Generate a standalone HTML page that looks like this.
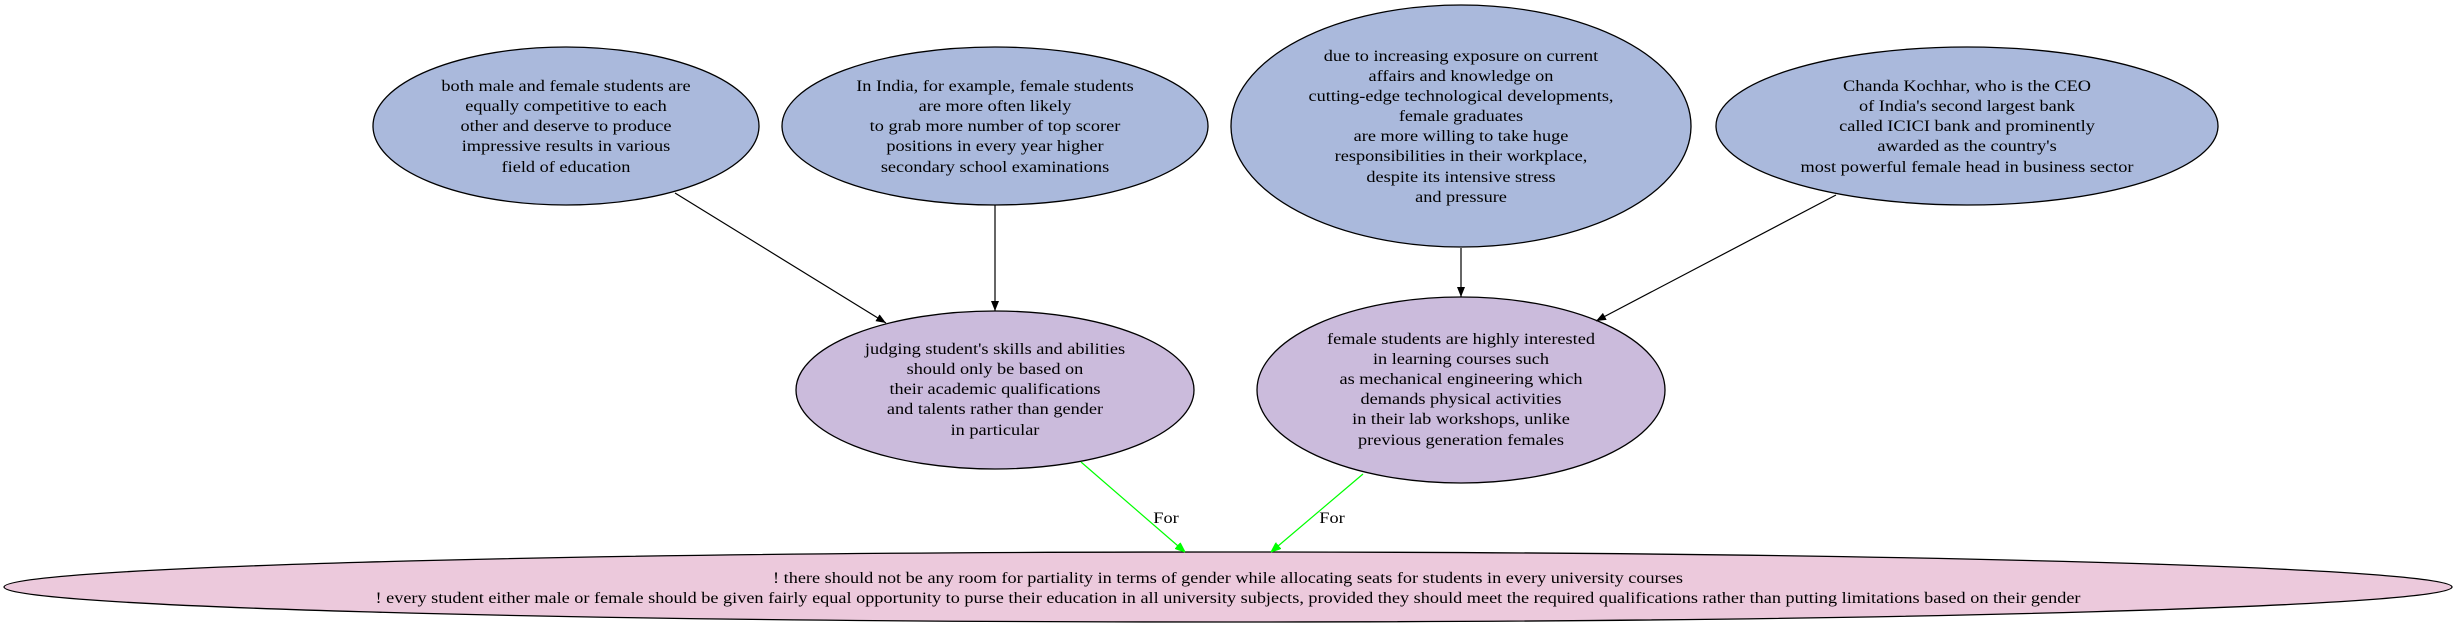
<!DOCTYPE html>
<html><head><meta charset="utf-8"><style>html,body{margin:0;padding:0;background:#fff}svg{display:block}</style></head>
<body>
<svg width="2456" height="626" viewBox="0 0 2456 626" xmlns="http://www.w3.org/2000/svg" font-family="'Liberation Serif', serif" font-size="15.5" text-anchor="middle">
<defs>
<marker id="ab" markerWidth="10" markerHeight="8" refX="10" refY="4" orient="auto" markerUnits="userSpaceOnUse" viewBox="0 0 10 8"><path d="M0,0 L10,4 L0,8 z" fill="#000"/></marker>
<marker id="ag" markerWidth="10" markerHeight="8" refX="10" refY="4" orient="auto" markerUnits="userSpaceOnUse" viewBox="0 0 10 8"><path d="M0,0 L10,4 L0,8 z" fill="#00ff00" stroke="#00ff00"/></marker>
</defs>
<g stroke="#000" stroke-width="1.3">
<ellipse cx="566" cy="126" rx="193" ry="79" fill="#aab9dc"/>
<ellipse cx="995" cy="126" rx="213" ry="79" fill="#aab9dc"/>
<ellipse cx="1461" cy="126" rx="230" ry="121" fill="#aab9dc"/>
<ellipse cx="1967" cy="126" rx="251" ry="79" fill="#aab9dc"/>
<ellipse cx="995" cy="390" rx="199" ry="79" fill="#cbbbdc"/>
<ellipse cx="1461" cy="390" rx="204" ry="93" fill="#cbbbdc"/>
<ellipse cx="1228" cy="587" rx="1224" ry="35" fill="#ecc9dc"/>
</g>
<g stroke="#000" stroke-width="1.2" fill="none">
<line x1="675" y1="193" x2="886" y2="323" marker-end="url(#ab)"/>
<line x1="995" y1="205" x2="995" y2="311" marker-end="url(#ab)"/>
<line x1="1461" y1="248" x2="1461" y2="297" marker-end="url(#ab)"/>
<line x1="1836" y1="195" x2="1596" y2="321" marker-end="url(#ab)"/>
</g>
<g stroke="#00ff00" stroke-width="1.2" fill="none">
<line x1="1081" y1="462" x2="1185" y2="552" marker-end="url(#ag)"/>
<line x1="1363" y1="474" x2="1271" y2="552" marker-end="url(#ag)"/>
</g>
<g transform="translate(1166,0) scale(1.18,1)"><text x="0" y="523">For</text></g>
<g transform="translate(1332,0) scale(1.18,1)"><text x="0" y="523">For</text></g>

<g transform="translate(566,0) scale(1.18,1)">
<text x="0" y="91">both male and female students are</text>
<text x="0" y="111">equally competitive to each</text>
<text x="0" y="131">other and deserve to produce</text>
<text x="0" y="151">impressive results in various</text>
<text x="0" y="172">field of education</text>
</g>
<g transform="translate(995,0) scale(1.18,1)">
<text x="0" y="91">In India, for example, female students</text>
<text x="0" y="111">are more often likely</text>
<text x="0" y="131">to grab more number of top scorer</text>
<text x="0" y="151">positions in every year higher</text>
<text x="0" y="172">secondary school examinations</text>
</g>
<g transform="translate(1461,0) scale(1.18,1)">
<text x="0" y="61">due to increasing exposure on current</text>
<text x="0" y="81">affairs and knowledge on</text>
<text x="0" y="101">cutting-edge technological developments,</text>
<text x="0" y="121">female graduates</text>
<text x="0" y="141">are more willing to take huge</text>
<text x="0" y="161">responsibilities in their workplace,</text>
<text x="0" y="182">despite its intensive stress</text>
<text x="0" y="202">and pressure</text>
</g>
<g transform="translate(1967,0) scale(1.18,1)">
<text x="0" y="91">Chanda Kochhar, who is the CEO</text>
<text x="0" y="111">of India's second largest bank</text>
<text x="0" y="131">called ICICI bank and prominently</text>
<text x="0" y="151">awarded as the country's</text>
<text x="0" y="172">most powerful female head in business sector</text>
</g>
<g transform="translate(995,0) scale(1.18,1)">
<text x="0" y="354">judging student's skills and abilities</text>
<text x="0" y="374">should only be based on</text>
<text x="0" y="394">their academic qualifications</text>
<text x="0" y="414">and talents rather than gender</text>
<text x="0" y="435">in particular</text>
</g>
<g transform="translate(1461,0) scale(1.18,1)">
<text x="0" y="344">female students are highly interested</text>
<text x="0" y="364">in learning courses such</text>
<text x="0" y="384">as mechanical engineering which</text>
<text x="0" y="404">demands physical activities</text>
<text x="0" y="424">in their lab workshops, unlike</text>
<text x="0" y="445">previous generation females</text>
</g>
<text x="1228" y="583" textLength="910" lengthAdjust="spacingAndGlyphs">! there should not be any room for partiality in terms of gender while allocating seats for students in every university courses</text>
<text x="1228" y="603" textLength="1705" lengthAdjust="spacingAndGlyphs">! every student either male or female should be given fairly equal opportunity to purse their education in all university subjects, provided they should meet the required qualifications rather than putting limitations based on their gender</text>
</svg>
</body></html>
